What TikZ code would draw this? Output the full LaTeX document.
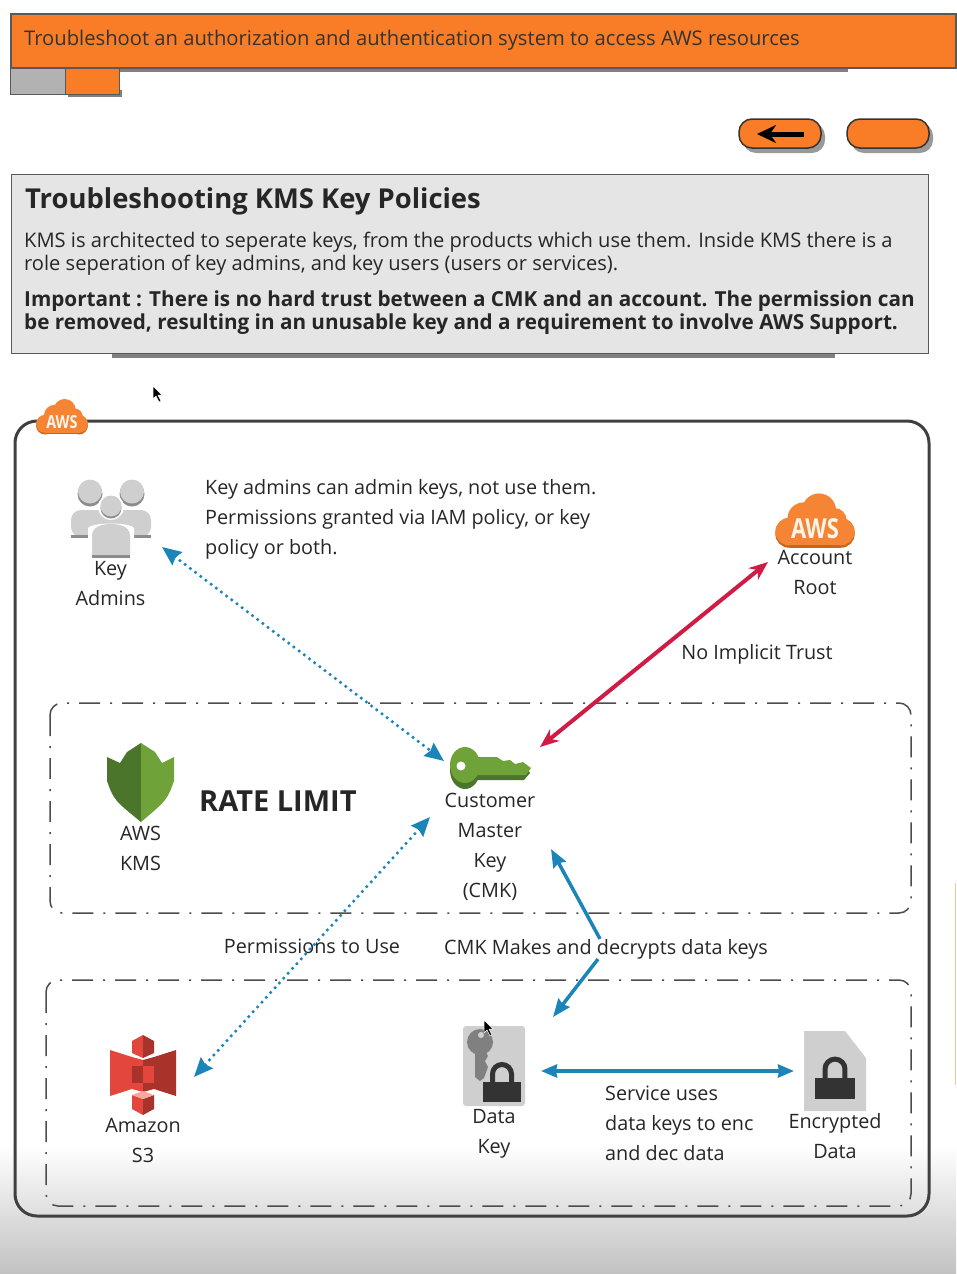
\documentclass[tikz,border=0pt]{standalone}
\usepackage{fontspec}
\setmainfont{Open Sans}
\usetikzlibrary{arrows.meta}

\definecolor{barorange}{HTML}{F97D26}
\definecolor{cloudorange}{HTML}{F58534}
\definecolor{clouddark}{HTML}{C9661A}
\definecolor{arrowblue}{HTML}{1B84B8}
\definecolor{arrowred}{HTML}{D01C45}
\definecolor{kmslight}{HTML}{6FA33A}
\definecolor{kmsdark}{HTML}{4A752B}
\definecolor{iconhalf}{HTML}{CFCFCF}
\definecolor{lockdark}{HTML}{333333}
\definecolor{s3light}{HTML}{E2463C}
\definecolor{s3dark}{HTML}{A8332A}
\definecolor{s3pale}{HTML}{F5A8A0}
\definecolor{edgeorange}{HTML}{FBC58F}

\tikzset{
  label20/.style={font=\fontsize{19.8}{30}\selectfont,text=black!85,align=center,inner sep=0pt},
  note20/.style={label20,align=left,anchor=west},
  dashbox/.style={draw=black!70,line width=1.5pt,rounded corners=12pt,dash pattern=on 21pt off 10pt on 2pt off 10pt},
  dotarrow/.style={draw=arrowblue,line width=3.5pt,line cap=round,dash pattern=on 0pt off 6.5pt,{Stealth[length=19pt,width=16pt,inset=2pt]}-{Stealth[length=19pt,width=16pt,inset=2pt]}},
  blueone/.style={draw=arrowblue,line width=3.5pt,-{Stealth[length=18pt,width=14pt,inset=2pt]}},
  blueboth/.style={draw=arrowblue,line width=3.5pt,{Stealth[length=16pt,width=13pt,inset=1pt]}-{Stealth[length=16pt,width=13pt,inset=1pt]}},
  redboth/.style={draw=arrowred,line width=4pt,{Stealth[length=19pt,width=15pt]}-{Stealth[length=19pt,width=15pt]}},
  shadowbar/.style={fill=black!50,draw=none},
  awscloud/.pic={
    \foreach \dy/\col in {3/clouddark,0/cloudorange}{
      \fill[\col] (-32,13+\dy) circle (17);
      \fill[\col] (32,13+\dy) circle (17);
      \fill[\col] (-14,-3+\dy) circle (20);
      \fill[\col] (5,-13+\dy) circle (21);
      \fill[\col] (24,-1+\dy) circle (15);
      \fill[\col] (-32,5+\dy) rectangle (32,30+\dy);
    }
    \node[text=white!92!orange,font=\fontsize{34}{34}\bfseries\selectfont,xscale=.8,transform shape,inner sep=0pt] (text) at (0,9) {AWS};
  },
  lock/.pic={
    \draw[lockdark,line width=5pt] (-9.5,-8) -- (-9.5,-18) arc[start angle=180,end angle=360,radius=9.5] -- (9.5,-8);
    \fill[lockdark] (-19,-10) rectangle (19,10);
  },
  person/.pic={
    \fill[iconhalf] (-19,38) -- (-19,16) .. controls (-19,6) and (-8,4) .. (0,4) .. controls (8,4) and (19,6) .. (19,16) -- (19,38) -- cycle;
    \fill[black!45] (-19,35) rectangle (19,38);
  },
  pointer/.pic={
    \fill[black,draw=white,line width=.5pt] (0,0) -- (0,13) -- (3,10) -- (6,16) -- (8,15) -- (5,9) -- (9,9) -- cycle;
  }
}

\begin{document}
\begin{tikzpicture}[x=1pt,y=-1pt,>=Stealth]
  \useasboundingbox (0,0) rectangle (956,1274);
  \shade[top color=white,bottom color=black!24] (0,1145) rectangle (956,1274);
  \fill[edgeorange] (954.5,883) rectangle (956,1085);

  % header bar and tabs
  \fill[shadowbar] (20,67) rectangle (848,72);
  \fill[shadowbar] (68,90) rectangle (122,97);
  \node[fill=black!30,draw=black!65,line width=1pt,minimum width=55pt,minimum height=27pt,anchor=north west,inner sep=0pt] (graytab) at (10,67) {};
  \node[fill=barorange,draw=black!65,line width=1pt,minimum width=54pt,minimum height=27pt,anchor=north west,inner sep=0pt] (orangetab) at (65,67) {};
  \node[fill=barorange,draw=black!65,line width=1.5pt,minimum width=945pt,minimum height=54pt,anchor=north west,inner sep=0pt] (headbar) at (10,13) {};
  \node[anchor=west,inner sep=0pt,font=\fontsize{20.2}{24}\selectfont,text=black!80] (headtext) at (24,40) {Troubleshoot an authorization and authentication system to access AWS resources};

  % buttons
  \fill[black!40,rounded corners=13pt] (743,123) rectangle (825,153);
  \fill[black!40,rounded corners=13pt] (851,123) rectangle (933,153);
  \node[fill=barorange,draw=black!80,line width=1.5pt,rounded corners=13pt,minimum width=82pt,minimum height=29pt,inner sep=0pt] (backbtn) at (780,133.5) {};
  \node[fill=barorange,draw=black!80,line width=1.5pt,rounded corners=13pt,minimum width=82pt,minimum height=29pt,inner sep=0pt] (nextbtn) at (888,133.5) {};
  \coordinate (backtail) at (804,134);
  \coordinate (backtip) at (757,134);
  \draw[black,line width=5pt,-{Stealth[length=19pt,width=18pt]}] (backtail) -- (backtip);

  % text panel
  \fill[shadowbar] (112,353) rectangle (835,358);
  \node[fill=black!10,draw=black!65,line width=1.2pt,minimum width=917pt,minimum height=179pt,anchor=north west,inner sep=0pt] (infobox) at (11,174) {};
  \node[anchor=west,inner sep=0pt,font=\fontsize{27.4}{32}\bfseries\selectfont,text=black!85] (infotitle) at (25,201) {Troubleshooting KMS Key Policies};
  \node[anchor=north west,inner sep=0pt,align=left,font=\fontsize{20.1}{23}\selectfont,text=black!85] (infotext) at (24,232) {KMS is architected to seperate keys, from the products which use them. Inside KMS there is a\\role seperation of key admins, and key users (users or services).};
  \node[anchor=north west,inner sep=0pt,align=left,font=\fontsize{20.7}{23}\bfseries\selectfont,text=black!85] (infowarn) at (24,291) {Important : There is no hard trust between a CMK and an account. The permission can\\be removed, resulting in an unusable key and a requirement to involve AWS Support.};

  % outer frame
  \draw[black!75,line width=3pt,rounded corners=22pt] (15,421) rectangle (929,1216);
  \pic[scale=.53] (framecloud) at (62,417) {awscloud};

  % dash dot groups
  \draw[dashbox] (50,703) rectangle (911,913);
  \draw[dashbox] (46,980) rectangle (911,1206);

  % key admins
  \foreach \hx in {90,132}{
    \fill[black!45] (\hx,494) circle (12.5);
    \fill[iconhalf] (\hx,491.5) circle (12);
  }
  \fill[iconhalf,rounded corners=10pt] (71,537) -- (71,510) -- (151,510) -- (151,537) -- cycle;
  \fill[black!45] (71,535) rectangle (92,538);
  \fill[black!45] (130,535) rectangle (151,538);
  \fill[white] (111,507) circle (13);
  \fill[black!45] (111,508) circle (10.5);
  \fill[iconhalf] (111,506) circle (10.5);
  \fill[white] (88,556) -- (88,528) .. controls (92,522) and (130,522) .. (134,528) -- (134,556) -- cycle;
  \pic at (111,520) {person};
  \node[label20] (adminslabel) at (110.5,583.5) {Key\\Admins};
  \node[note20] (adminsnote) at (205,519) {Key admins can admin keys, not use them.\\Permissions granted via IAM policy, or key\\policy or both.};

  % account root
  \pic[scale=.81] (rootcloud) at (815,521) {awscloud};
  \node[label20] (rootlabel) at (815,572) {Account\\Root};
  \node[label20] (trustlabel) at (757,654) {No Implicit Trust};

  % kms
  \fill[kmsdark] (141,743) -- (127,752) -- (120,763) -- (107,757) -- (107,781) .. controls (114,800) .. (141,822) -- cycle;
  \fill[kmslight] (141,743) -- (155,752) -- (162,763) -- (174,757) -- (174,781) .. controls (167,800) .. (141,822) -- cycle;
  \node[label20] (kmslabel) at (140.5,848) {AWS\\KMS};
  \node[anchor=west,inner sep=0pt,font=\fontsize{29}{32}\bfseries\selectfont,text=black!85] (ratelabel) at (199,801) {RATE LIMIT};

  % customer master key
  \fill[kmsdark] (465,770) ellipse (15 and 19);
  \fill[kmsdark] (470,767) -- (526,767) -- (530,773) -- (524,780) -- (470,780) -- cycle;
  \fill[kmslight] (465,765) ellipse (15 and 18);
  \fill[kmslight] (470,757) -- (497,757) -- (503,761) -- (510,760) -- (515,764) -- (523,762) -- (531,768) -- (526,775) -- (470,775) -- cycle;
  \fill[white] (461,766) circle (4.5);
  \node[label20] (cmklabel) at (490,847) {Customer\\Master\\Key\\(CMK)};

  % s3
  \fill[s3light] (110,1050) -- (132,1057) -- (143,1060) -- (143,1066) -- (132,1066) -- (132,1083) -- (143,1083) -- (143,1092) -- (132,1089) -- (110,1096) -- cycle;
  \fill[s3dark] (176,1050) -- (154,1057) -- (143,1060) -- (143,1066) -- (154,1066) -- (154,1083) -- (143,1083) -- (143,1092) -- (154,1089) -- (176,1096) -- cycle;
  \fill[s3dark] (132,1066) rectangle (143,1083);
  \fill[s3light] (143,1066) rectangle (154,1083);
  \fill[s3light] (132,1041) -- (143,1035) -- (143,1058) -- (132,1053) -- cycle;
  \fill[s3dark] (154,1041) -- (143,1035) -- (143,1058) -- (154,1053) -- cycle;
  \fill[s3light] (132,1095) -- (143,1099) -- (143,1115) -- (132,1109) -- cycle;
  \fill[s3dark] (154,1095) -- (143,1099) -- (143,1115) -- (154,1109) -- cycle;
  \fill[s3pale] (132,1095) -- (143,1091) -- (154,1095) -- (143,1099) -- cycle;
  \node[label20] (s3label) at (143,1140) {Amazon\\S3};

  % data key
  \node[fill=iconhalf,rounded corners=3pt,minimum width=62pt,minimum height=80pt,inner sep=0pt] (dataicon) at (494,1066) {};
  \fill[black!50] (480,1042) circle (13);
  \fill[black!50] (475,1050) -- (485,1050) -- (488,1056) -- (485,1061) -- (488,1067) -- (484,1078) -- (480,1081) -- (475,1077) -- cycle;
  \fill[iconhalf] (481,1035) circle (3);
  \pic at (502,1092) {lock};
  \node[label20] (datalabel) at (494,1134) {Data\\Key};

  % encrypted data
  \fill[iconhalf] (804,1031) -- (845,1031) -- (866,1058) -- (866,1111) -- (804,1111) -- cycle;
  \pic[scale=1.05] at (835,1088) {lock};
  \node[label20] (enclabel) at (835,1136.5) {Encrypted\\Data};
  \node[note20] (servicenote) at (605,1123.5) {Service uses\\data keys to enc\\and dec data};

  % labels on arrows
  \node[label20] (uselabel) at (312,946) {Permissions to Use};
  \node[label20] (makelabel) at (606,949) {CMK Makes and decrypts data keys};

  % connector ends
  \coordinate (admintip) at (162,547);
  \coordinate (cmktipa) at (444,761);
  \coordinate (roottip) at (768,562);
  \coordinate (cmktipb) at (540,747);
  \coordinate (cmktipc) at (430,817);
  \coordinate (s3tip) at (194,1077);
  \coordinate (cmktipd) at (551,849);
  \coordinate (datatipa) at (553,1017);
  \coordinate (datatipb) at (541,1071);
  \coordinate (enctip) at (794,1071);

  \draw[dotarrow] (admintip) -- (cmktipa);
  \draw[redboth] (roottip) -- (cmktipb);
  \draw[dotarrow] (cmktipc) -- (s3tip);
  \draw[blueone] ([xshift=-6pt]makelabel.north) -- (cmktipd);
  \draw[blueone] ([xshift=-8pt]makelabel.south) -- (datatipa);
  \draw[blueboth] (datatipb) -- (enctip);

  % mouse pointers
  \pic at (153,386) {pointer};
  \pic at (484,1020) {pointer};
\end{tikzpicture}
\end{document}
